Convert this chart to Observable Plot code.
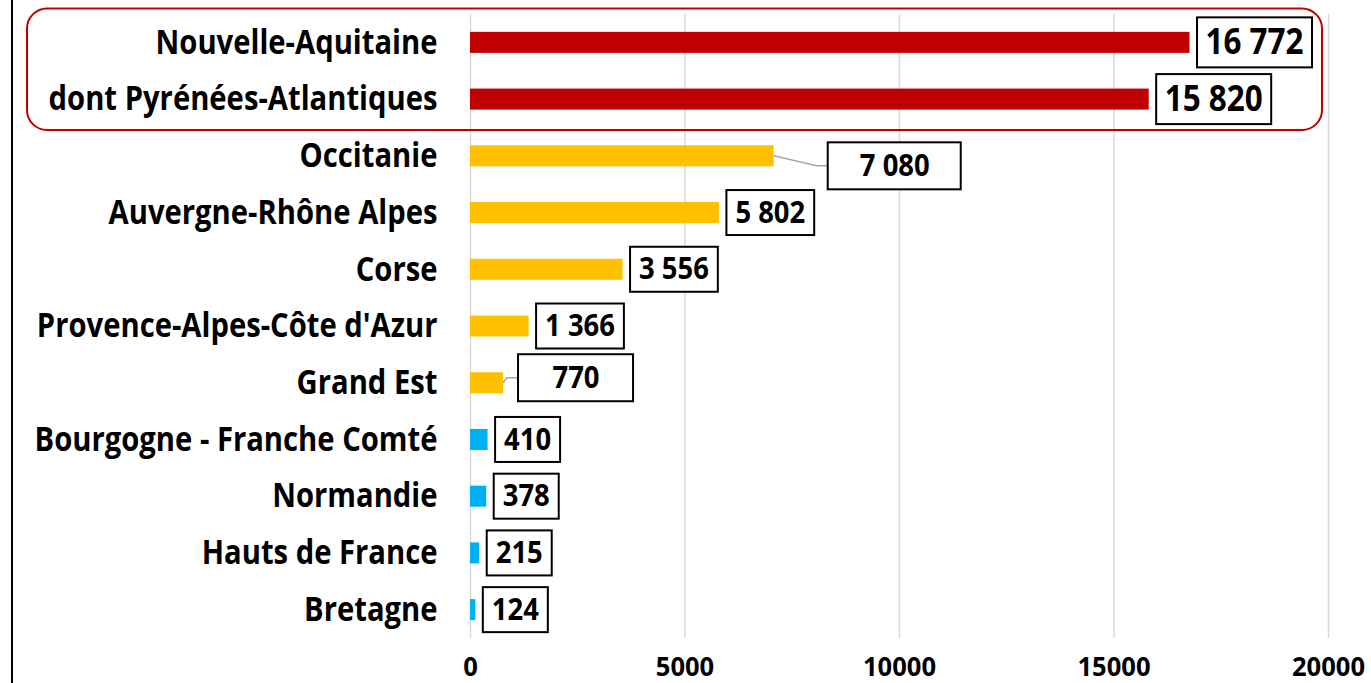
<!DOCTYPE html>
<html>
<head>
<meta charset="utf-8">
<script src="https://cdn.jsdelivr.net/npm/d3@7"></script>
<script src="https://cdn.jsdelivr.net/npm/@observablehq/plot@0.6"></script>
<style>
html, body { margin: 0; padding: 0; background: #fff; }
#wrap { position: relative; width: 1371px; height: 683px; overflow: hidden; }
#edge { position: absolute; left: 11px; top: 0; width: 2px; height: 683px; background: #000; }
#wrap svg { position: absolute; left: 0; top: 0; }
</style>
</head>
<body>
<div id="wrap"><div id="edge"></div></div>
<script>
// ---- data ----
const regions = [
  "Nouvelle-Aquitaine",
  "dont Pyrénées-Atlantiques",
  "Occitanie",
  "Auvergne-Rhône Alpes",
  "Corse",
  "Provence-Alpes-Côte d'Azur",
  "Grand Est",
  "Bourgogne - Franche Comté",
  "Normandie",
  "Hauts de France",
  "Bretagne"
];
const values = [16772, 15820, 7080, 5802, 3556, 1366, 770, 410, 378, 215, 124];
const groups = ["focus", "focus", "mid", "mid", "mid", "mid", "mid", "low", "low", "low", "low"];
const groupNames = ["focus", "mid", "low"];
const groupColors = ["#C00000", "#FFC000", "#00B0F0"];
const xTicks = [0, 5000, 10000, 15000, 20000];

// ---- label layout (styles, not data) ----
const calloutCfg = {
  "Occitanie": { gap: 54, dy: 10, boxW: 133, boxH: 47 },
  "Grand Est": { gap: 15, dy: -5, boxW: 115, boxH: 47 }
};
const normalCfg = { gap: 7, padX: 9, boxH: 45 };
const focusCfg = { gap: 7, padX: 8.5, boxH: 50 };

// ---- font: a regular face, narrowed with textLength to mimic the condensed original ----
const FAMILY = "Open Sans";
const FONT = `"${FAMILY}", "DejaVu Sans", sans-serif`;
const CAP = 0.714;
const ySize = 24 / CAP, xSize = 19.5 / CAP, valueSize = 21.5 / CAP, focusSize = 25 / CAP;
const ctx = document.createElement("canvas").getContext("2d");
function squeeze(size, samples) {
  ctx.font = `bold ${size}px ${FONT}`;
  const ks = samples.map(([s, w]) => w / ctx.measureText(s).width);
  return d3.mean(ks);
}
const yK = squeeze(ySize, [["Provence-Alpes-Côte d'Azur", 412], ["Bourgogne - Franche Comté", 407], ["dont Pyrénées-Atlantiques", 389], ["Auvergne-Rhône Alpes", 332], ["Nouvelle-Aquitaine", 279], ["Hauts de France", 236], ["Normandie", 159]]);
const xK = squeeze(xSize, [["10000", 73]]);
const vK = squeeze(valueSize, [["5 802", 72], ["3 556", 72], ["410", 44]]);
const fK = squeeze(focusSize, [["16 772", 98]]);

const fr = d3.formatLocale({ decimal: ",", thousands: " ", grouping: [3], currency: ["", "€"] });
const fmt = fr.format(",d");

const data = regions.map((r, i) => ({ region: r, value: values[i], group: groups[i] }));
const focusRows = data.filter(d => d.group === "focus");
const normalRows = data.filter(d => d.group !== "focus" && !calloutCfg[d.region]);
const calloutRows = data.filter(d => calloutCfg[d.region]);

const marks = [
  Plot.ruleX(xTicks, { stroke: "#d9d9d9", strokeWidth: 1.5 }),
  Plot.barX(data, { x: "value", y: "region", fill: "group", insetTop: 17.85, insetBottom: 17.85 }),
  Plot.text(focusRows, {
    x: "value", y: "region", text: d => fmt(d.value), textAnchor: "start",
    dx: focusCfg.gap + focusCfg.padX, fontSize: focusSize, fontWeight: "bold", fill: "#000"
  }),
  Plot.text(normalRows, {
    x: "value", y: "region", text: d => fmt(d.value), textAnchor: "start",
    dx: normalCfg.gap + normalCfg.padX, fontSize: valueSize, fontWeight: "bold", fill: "#000"
  }),
  ...calloutRows.map(row => {
    const c = calloutCfg[row.region];
    return Plot.text([row], {
      x: "value", y: "region", text: d => fmt(d.value), textAnchor: "middle",
      dx: c.gap + c.boxW / 2, dy: c.dy, fontSize: valueSize, fontWeight: "bold", fill: "#000"
    });
  })
];

const chart = Plot.plot({
  width: 1371,
  height: 683,
  marginLeft: 470,
  marginRight: 43,
  marginTop: 14,
  marginBottom: 45,
  style: { fontFamily: FONT, fontWeight: "bold", color: "#000", background: "transparent" },
  x: { domain: [0, 20000], ticks: xTicks, tickFormat: "d", tickSize: 0, tickPadding: 18, label: null },
  y: { domain: regions, padding: 0, round: false, tickSize: 0, tickPadding: 33, label: null },
  color: { domain: groupNames, range: groupColors },
  marks
});

document.getElementById("wrap").appendChild(chart);

function narrow(t, k) {
  const w = t.getComputedTextLength();
  t.setAttribute("textLength", w * k);
  t.setAttribute("lengthAdjust", "spacingAndGlyphs");
}

// axis fonts
chart.querySelectorAll('[aria-label^="y-axis"] text').forEach(t => {
  t.setAttribute("font-size", ySize); t.setAttribute("font-weight", "bold"); t.setAttribute("fill", "#000");
  narrow(t, yK);
});
chart.querySelectorAll('[aria-label^="x-axis"] text').forEach(t => {
  t.setAttribute("font-size", xSize); t.setAttribute("font-weight", "bold"); t.setAttribute("fill", "#000");
  narrow(t, xK);
});

// scales
const xs = chart.scale("x"), ys = chart.scale("y");
const X = v => xs.apply ? xs.apply(v) : d3.scaleLinear(xs.domain, xs.range)(v);
const Y0 = r => ys.apply ? ys.apply(r) : d3.scaleBand(ys.domain, ys.range)(r);
const BW = ys.bandwidth;
const Yc = r => Y0(r) + BW / 2;

const NS = "http://www.w3.org/2000/svg";
function mk(tag, attrs) {
  const e = document.createElementNS(NS, tag);
  for (const k in attrs) e.setAttribute(k, attrs[k]);
  return e;
}
const sr = chart.getBoundingClientRect();

const textGroups = Array.from(chart.querySelectorAll('g[aria-label="text"]'));
function addBoxes(g, rows, cfgFn, k) {
  if (!g) return;
  const layer = mk("g", { "aria-label": "label-boxes" });
  g.parentNode.insertBefore(layer, g);
  g.querySelectorAll("text").forEach((t, i) => {
    narrow(t, k);
    const d = rows[i];
    const cfg = cfgFn(d);
    const r = t.getBoundingClientRect();
    const cy = Yc(d.region) + (cfg.dy || 0);
    let x0, w;
    if (cfg.boxW) { x0 = X(d.value) + cfg.gap; w = cfg.boxW; }
    else { x0 = r.left - sr.left - cfg.padX; w = r.width + 2 * cfg.padX; }
    if (cfg.boxW) {
      const ex = x0 - 11;
      layer.appendChild(mk("path", {
        d: `M${X(d.value)},${Yc(d.region)}L${ex},${cy}L${x0},${cy}`,
        fill: "none", stroke: "#a6a6a6", "stroke-width": 1.5
      }));
    }
    layer.appendChild(mk("rect", {
      x: x0, y: cy - cfg.boxH / 2, width: w, height: cfg.boxH,
      fill: "#fff", stroke: "#000", "stroke-width": 2
    }));
  });
}
addBoxes(textGroups[0], focusRows, () => focusCfg, fK);
addBoxes(textGroups[1], normalRows, () => normalCfg, vK);
calloutRows.forEach((row, k) => addBoxes(textGroups[2 + k], [row], d => calloutCfg[d.region], vK));

// highlight frame around the two focus rows
const topY = Y0(regions[0]) - 5.5;
const botY = Y0(regions[1]) + BW + 2.5;
chart.appendChild(mk("rect", {
  x: 27, y: topY, width: X(20000) - 6 - 27, height: botY - topY, rx: 20, ry: 20,
  fill: "none", stroke: "#C00000", "stroke-width": 2
}));
</script>
</body>
</html>
